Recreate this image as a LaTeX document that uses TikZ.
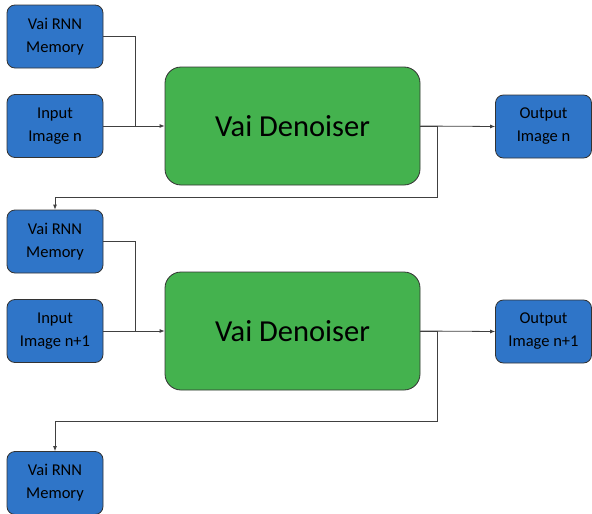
\documentclass[tikz,border=0pt]{standalone}
\usepackage{fontspec}
\setmainfont{Carlito}
\definecolor{boxblue}{HTML}{2F75C8}
\definecolor{boxgreen}{HTML}{44B24E}
\tikzset{
  smallbox/.style={draw=black!80,line width=.8pt,fill=boxblue,rounded corners=8pt,
    minimum width=96pt,minimum height=63pt,align=center,inner sep=0pt,
    font=\fontsize{16.5}{23}\selectfont},
  bigbox/.style={draw=black!80,line width=.8pt,fill=boxgreen,rounded corners=16pt,
    minimum width=255pt,minimum height=118pt,inner sep=0pt,
    font=\fontsize{30.5}{34}\selectfont},
  link/.style={draw=black!75,line width=.8pt},
  arr/.style={link,-{Latex[length=5pt,width=4pt]}}
}
\usetikzlibrary{arrows.meta}
\begin{document}
\begin{tikzpicture}[x=1pt,y=-1pt]

    \useasboundingbox (0,0) rectangle (592,514);

    % first step
    \node [smallbox] (mem1) at (55,36.5) {Vai RNN\\Memory};
    \node [smallbox] (in1) at (55,126) {Input\\Image n};
    \node [bigbox] (den1) at (292.5,126) {Vai Denoiser};
    \node [smallbox] (out1) at (543.5,126.5) {Output\\Image n};

    % second step
    \node [smallbox] (mem2) at (55,241.5) {Vai RNN\\Memory};
    \node [smallbox] (in2) at (55,331) {Input\\Image n+1};
    \node [bigbox] (den2) at (292.5,331) {Vai Denoiser};
    \node [smallbox] (out2) at (543.5,331.5) {Output\\Image n+1};

    % next memory
    \node [smallbox] (mem3) at (55,483) {Vai RNN\\Memory};

    % inputs
    \draw [link] (mem1.east) -| (135,126);
    \draw [arr] (in1.east) -- (den1.west);
    \draw [link] (mem2.east) -| (135,331);
    \draw [arr] (in2.east) -- (den2.west);

    % outputs
    \draw [arr] (den1.east) -- (out1.west);
    \draw [arr] (den2.east) -- (out2.west);

    % memory loops
    \draw [arr] (den1.east) -| (437,197) -| (mem2.north);
    \draw [arr] (den2.east) -| (437,421) -| (mem3.north);

\end{tikzpicture}
\end{document}
